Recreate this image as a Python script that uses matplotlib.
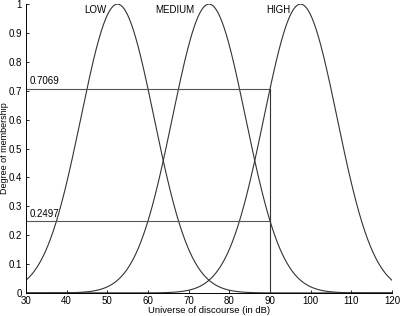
import numpy as np
import matplotlib
matplotlib.use("Agg")
import matplotlib.pyplot as plt

# gaussian membership functions (center, sigma)
names = ['LOW', 'MEDIUM', 'HIGH']
centers = [52.5, 75.0, 97.5]
sigmas = [9.0, 9.0, 9.0]
label_x = [47.0, 66.6, 92.0]

x_in = 90
levels = [0.7069, 0.2497]
level_text = ['0.7069', '0.2497']

plt.rcParams['font.family'] = ['Liberation Sans', 'DejaVu Sans']
plt.rcParams['font.size'] = 7

fig = plt.figure(figsize=(4.0, 3.16), dpi=100)
ax = fig.add_axes([0.065, 0.073, 0.915, 0.914])

x = np.linspace(30, 120, 500)
for c, s in zip(centers, sigmas):
    ax.plot(x, np.exp(-(x - c) ** 2 / (2 * s ** 2)), color='#333333', lw=0.8)

for n, lx in zip(names, label_x):
    ax.text(lx, 0.98, n, ha='center', va='center', fontsize=7)

for lv, t in zip(levels, level_text):
    ax.plot([30, x_in], [lv, lv], color='#555555', lw=0.8)
    ax.text(30.8, lv + 0.008, t, ha='left', va='bottom', fontsize=7)
ax.plot([x_in, x_in], [0, max(levels)], color='#333333', lw=0.8)

ax.set_xlim(30, 120)
ax.set_ylim(0, 1)
ax.set_xticks(range(30, 121, 10))
ax.set_yticks(np.arange(0, 1.01, 0.1))
ax.set_yticklabels(['0', '0.1', '0.2', '0.3', '0.4', '0.5', '0.6', '0.7', '0.8', '0.9', '1'])
ax.tick_params(direction='in', length=2.5, width=0.6)
ax.tick_params(axis='y', pad=3)
ax.tick_params(axis='x', pad=2)
ax.spines['top'].set_visible(False)
ax.spines['right'].set_visible(False)
for sp in ['left', 'bottom']:
    ax.spines[sp].set_linewidth(0.7)
ax.set_xlabel('Universe of discourse (in dB)', fontsize=6.8, labelpad=0)
ax.set_ylabel('Degree of membership', fontsize=6.5)
ax.yaxis.set_label_coords(-0.046, 0.5)

plt.savefig('out.png', dpi=100)
